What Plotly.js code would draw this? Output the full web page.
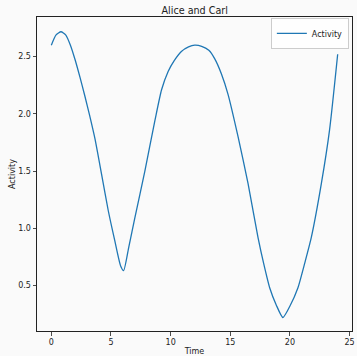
<!DOCTYPE html>
<html>
<head>
<meta charset="utf-8">
<script src="https://cdn.plot.ly/plotly-3.0.1.min.js"></script>
<style>html,body{margin:0;padding:0;background:#fafafa;}#chart{width:357px;height:356px;}</style>
</head>
<body>
<div id="chart"></div>
<script>
const time = [0, 0.4, 0.81, 1.2, 1.6, 2.0, 2.4, 2.8, 3.2, 3.66, 4.24, 4.77, 5.3, 5.81, 6.06, 6.5, 7.0, 7.84, 8.68, 9.24, 9.79, 10.3, 10.9, 11.5, 12.02, 12.6, 13.2, 13.7, 14.25, 14.81, 15.65, 16.49, 17.32, 17.8, 18.3, 18.85, 19.41, 20.0, 20.67, 21.2, 21.79, 22.63, 23.32, 24.0];
const activity = [2.60, 2.69, 2.717, 2.69, 2.60, 2.47, 2.32, 2.16, 1.99, 1.78, 1.455, 1.155, 0.90, 0.67, 0.63, 0.84, 1.09, 1.50, 1.94, 2.21, 2.37, 2.465, 2.545, 2.585, 2.60, 2.59, 2.555, 2.48, 2.35, 2.17, 1.80, 1.39, 0.92, 0.69, 0.48, 0.33, 0.22, 0.32, 0.48, 0.68, 0.92, 1.39, 1.86, 2.52];
const xTicks = [0, 5, 10, 15, 20, 25];
const yTicks = [0.5, 1.0, 1.5, 2.0, 2.5];

const font = {family: 'DejaVu Sans', size: 8, color: '#222'};
Plotly.newPlot('chart', [{
  x: time, y: activity, type: 'scatter', mode: 'lines', name: 'Activity',
  line: {color: '#1f77b4', width: 1.3, shape: 'spline', smoothing: 0.6}
}], {
  width: 357, height: 356,
  margin: {l: 37, r: 5, t: 17, b: 25},
  paper_bgcolor: '#fafafa', plot_bgcolor: '#fafafa',
  font: font,
  title: {text: 'Alice and Carl', font: {family: 'DejaVu Sans', size: 9.6, color: '#222'}, x: 0.5455, xanchor: 'center', y: 0.97, yanchor: 'middle'},
  xaxis: {
    range: [-1.2, 25.2], tickvals: xTicks, ticktext: xTicks.map(String),
    showgrid: false, zeroline: false, showline: true, mirror: true, linecolor: '#222', linewidth: 1,
    ticks: 'outside', ticklen: 3.5, tickwidth: 0.8, tickcolor: '#222', tickfont: font,
    title: {text: 'Time', font: font, standoff: 2}
  },
  yaxis: {
    range: [0.102, 2.846], tickvals: yTicks, ticktext: yTicks.map(v => v.toFixed(1)),
    showgrid: false, zeroline: false, showline: true, mirror: true, linecolor: '#222', linewidth: 1,
    ticks: 'outside', ticklen: 3.5, tickwidth: 0.8, tickcolor: '#222', tickfont: font,
    title: {text: 'Activity', font: font, standoff: 1}
  },
  showlegend: true,
  legend: {x: 0.99, xanchor: 'right', y: 0.997, yanchor: 'top', bgcolor: 'rgba(255,255,255,0.8)', bordercolor: '#cccccc', borderwidth: 1, font: font, itemwidth: 30, tracegroupgap: 0}
}, {displayModeBar: false, staticPlot: true});
</script>
</body>
</html>
